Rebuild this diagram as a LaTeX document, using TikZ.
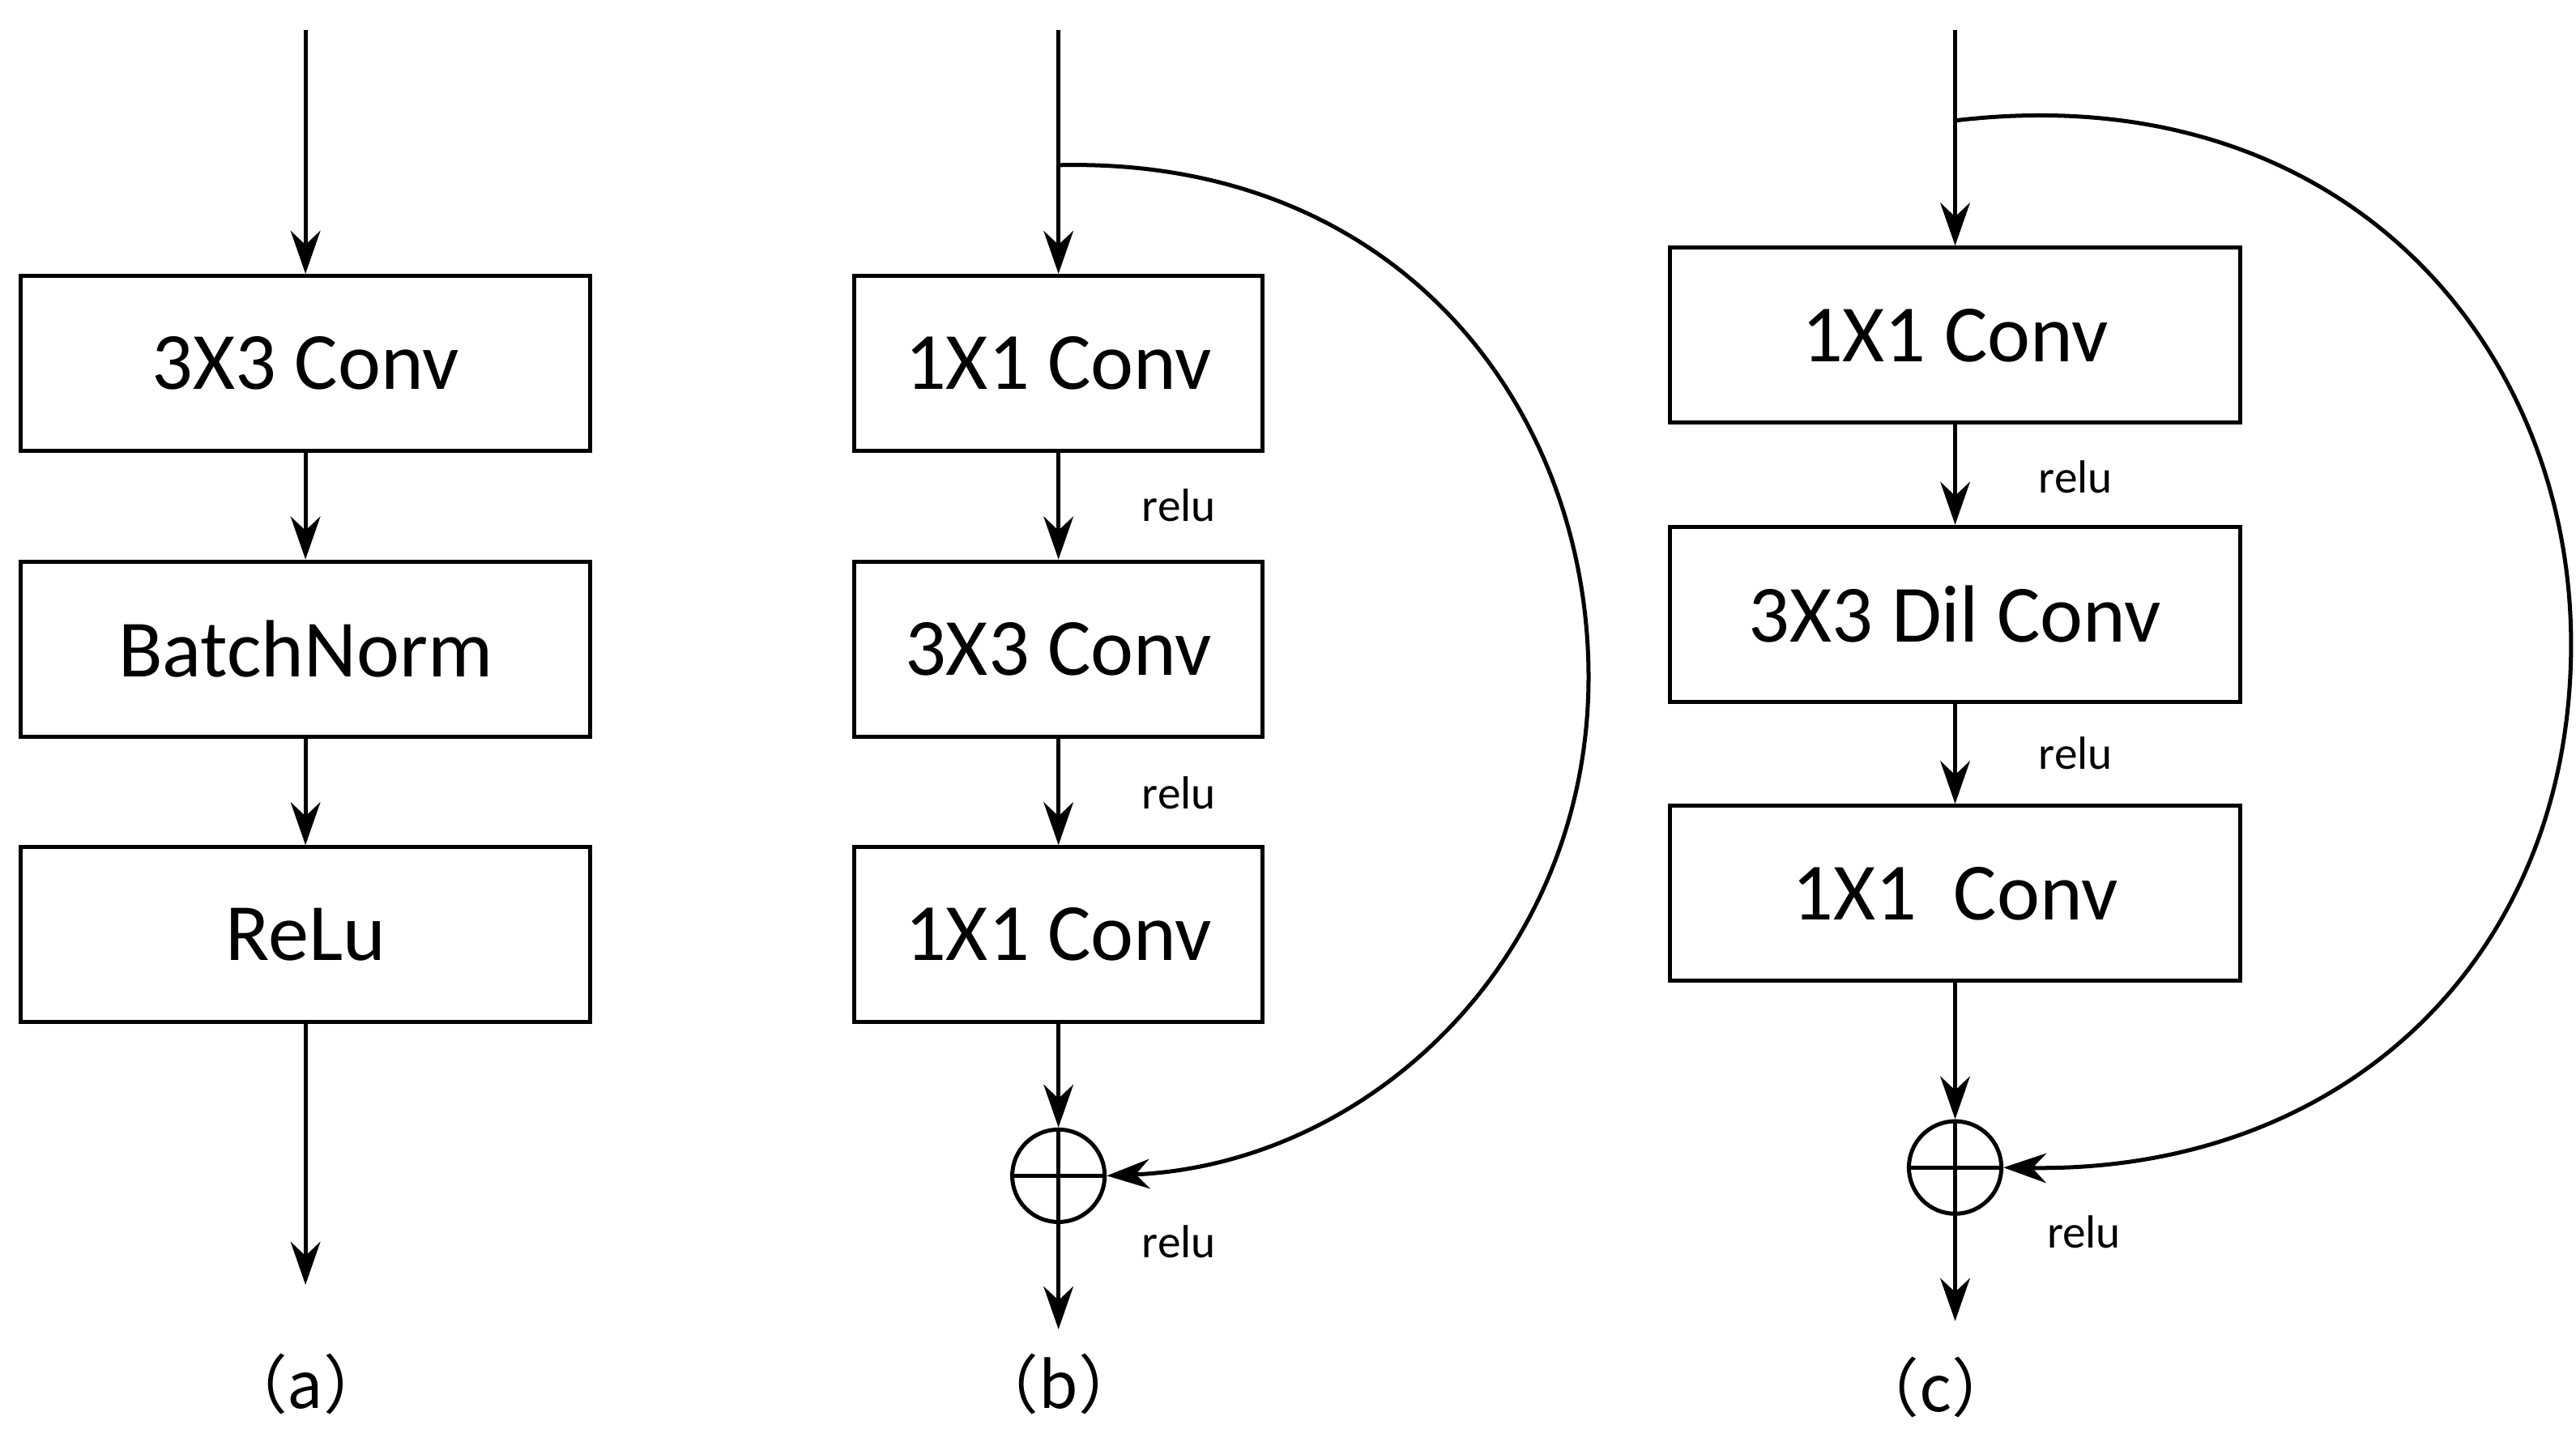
\documentclass[tikz,border=0pt]{standalone}
\usepackage{fontspec}
\setmainfont{Carlito}
\newfontfamily\cjk{Noto Sans CJK SC}
\usetikzlibrary{arrows.meta}
\begin{document}
\begin{tikzpicture}[x=0.1mm,y=-0.1mm,
 box/.style={draw,line width=0.7pt,minimum width=34.5mm,minimum height=10.6mm,font=\fontsize{14}{16}\selectfont,inner sep=0},
 boxb/.style={box,minimum width=24.7mm},
 arr/.style={line width=0.7pt,-{Stealth[length=2.6mm,width=1.8mm]}},
 lab/.style={font=\fontsize{8}{10}\selectfont},
 sublab/.style={font=\cjk\fontsize{11}{13}\selectfont},
 sum/.style={draw,circle,line width=0.7pt,minimum size=5.6mm,inner sep=0}]
\useasboundingbox (0,0) rectangle (1560,865);
% (a)
\coordinate (a0) at (185,18);
\node[box] (a1) at (185,220) {3X3 Conv};
\node[box] (a2) at (185,393) {BatchNorm};
\node[box] (a3) at (185,566) {ReLu};
\coordinate (a4) at (185,778);
\draw[arr] (a0)--(a1); \draw[arr] (a1)--(a2); \draw[arr] (a2)--(a3); \draw[arr] (a3)--(a4);
\node[sublab] (ca) at (185,838) {（a）};
% (b)
\coordinate (b0) at (641,18);
\coordinate (bs) at (641,100);
\node[boxb] (b1) at (641,220) {1X1 Conv};
\node[boxb] (b2) at (641,393) {3X3 Conv};
\node[boxb] (b3) at (641,566) {1X1 Conv};
\node[sum] (bp) at (641,712) {};
\draw[line width=0.7pt] (bp.west)--(bp.east) (bp.north)--(bp.south);
\coordinate (b4) at (641,805);
\draw[arr] (b0)--(b1); \draw[arr] (b1)--(b2); \draw[arr] (b2)--(b3); \draw[arr] (b3)--(bp); \draw[arr] (bp)--(b4);
\draw[arr] (bs) .. controls (850,95) and (962,250) .. (962,410) .. controls (962,580) and (830,705) .. (bp.east);
\node[lab] (rb1) at (714,306) {relu};
\node[lab] (rb2) at (714,480) {relu};
\node[lab] (rb3) at (714,752) {relu};
\node[sublab] (cb) at (641,838) {（b）};
% (c)
\coordinate (c0) at (1184,18);
\coordinate (cs) at (1184,73);
\node[box] (c1) at (1184,203) {1X1 Conv};
\node[box] (c2) at (1184,372) {3X3 Dil Conv};
\node[box] (c3) at (1184,541) {1X1\ \ Conv};
\node[sum] (cp) at (1184,707) {};
\draw[line width=0.7pt] (cp.west)--(cp.east) (cp.north)--(cp.south);
\coordinate (c4) at (1184,800);
\draw[arr] (c0)--(c1); \draw[arr] (c1)--(c2); \draw[arr] (c2)--(c3); \draw[arr] (c3)--(cp); \draw[arr] (cp)--(c4);
\draw[arr] (cs) .. controls (1420,45) and (1557,210) .. (1557,390) .. controls (1557,580) and (1420,710) .. (cp.east);
\node[lab] (rc1) at (1257,289) {relu};
\node[lab] (rc2) at (1257,456) {relu};
\node[lab] (rc3) at (1262,746) {relu};
\node[sublab] (cc) at (1172,840) {（c）};
\end{tikzpicture}
\end{document}
